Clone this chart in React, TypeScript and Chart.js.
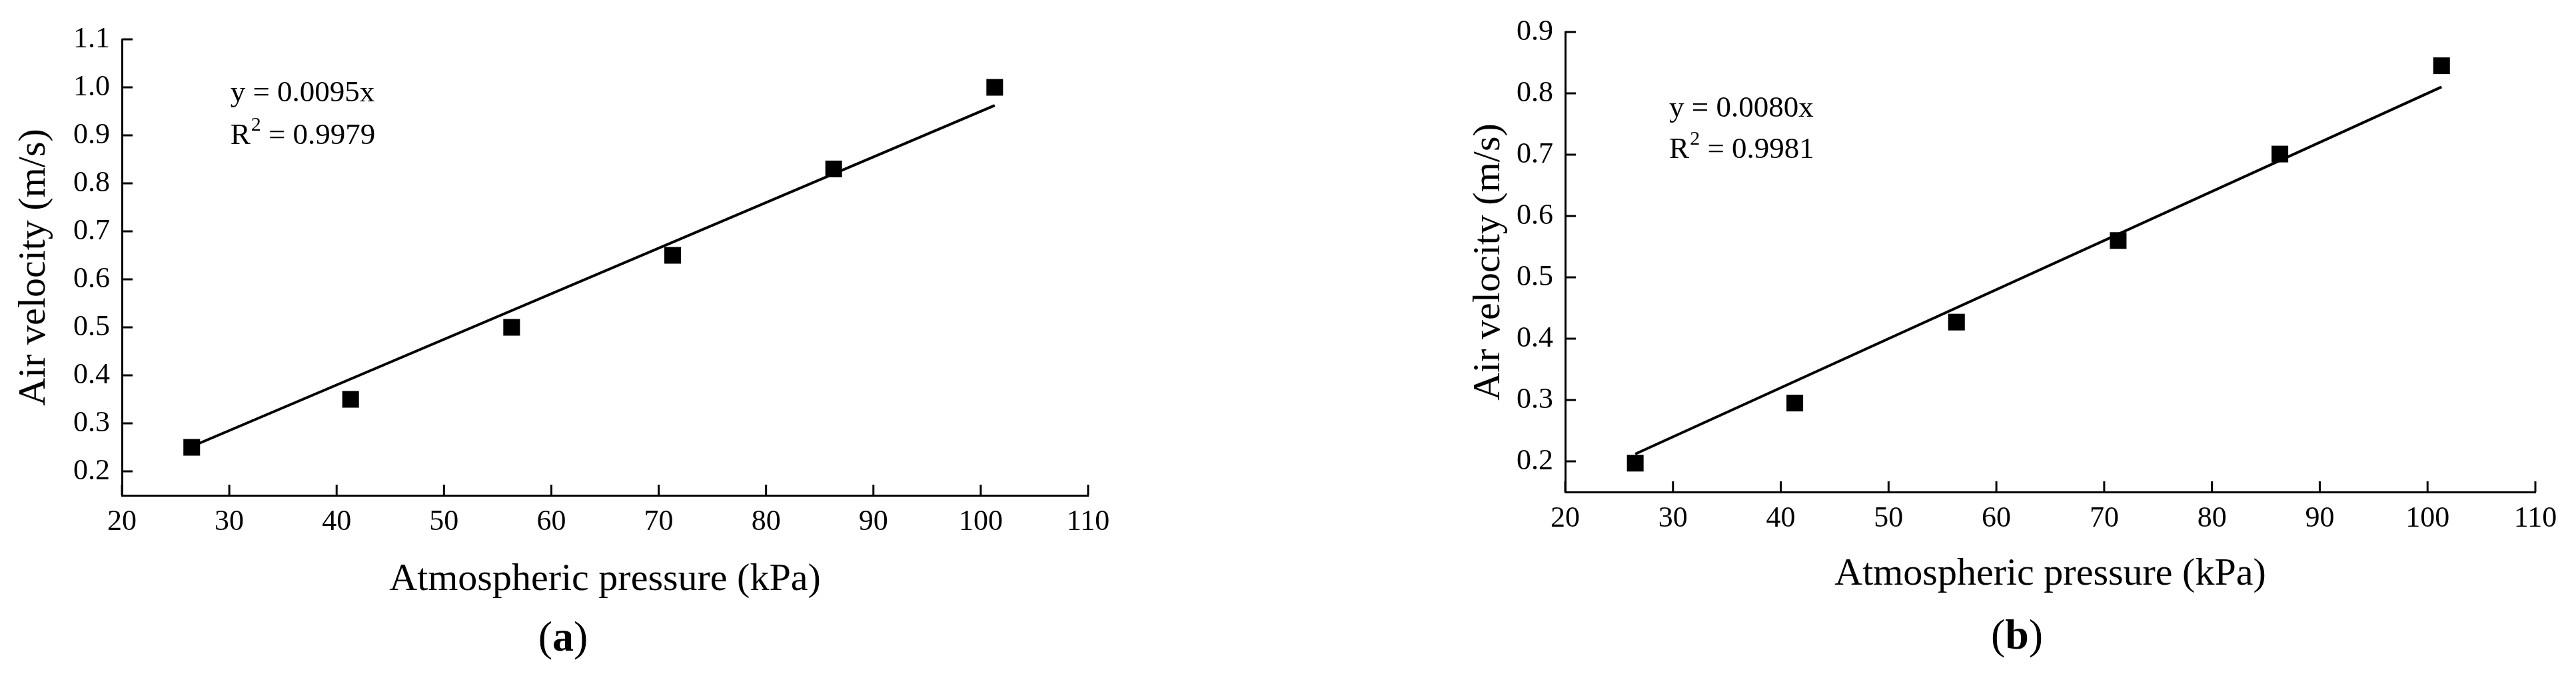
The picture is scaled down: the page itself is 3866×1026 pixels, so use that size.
import React, { useEffect, useRef } from "react";
import { Chart, registerables } from "chart.js";

Chart.register(...registerables);

// ---------- data ----------
const pressure = [26.5, 41.3, 56.3, 71.3, 86.3, 101.3];
const velocityA = [0.25, 0.35, 0.5, 0.65, 0.83, 1.0];
const velocityB = [0.197, 0.295, 0.427, 0.56, 0.701, 0.845];
const slopeA = 0.0095;
const slopeB = 0.008;
const equationA = "y = 0.0095x";
const equationB = "y = 0.0080x";
const r2A = "0.9979";
const r2B = "0.9981";
const xTicks = [20, 30, 40, 50, 60, 70, 80, 90, 100, 110];
const yTicksA = [0.2, 0.3, 0.4, 0.5, 0.6, 0.7, 0.8, 0.9, 1.0, 1.1];
const yTicksB = [0.2, 0.3, 0.4, 0.5, 0.6, 0.7, 0.8, 0.9];
const xTitle = "Atmospheric pressure (kPa)";
const yTitle = "Air velocity (m/s)";

const FONT = '"Liberation Serif", "Times New Roman", serif';

type Panel = {
  values: number[];
  slope: number;
  equation: string;
  r2: string;
  yTicks: number[];
  yMin: number;
  yMax: number;
  eqAnchor: { x: number; y1: number; y2: number };
  pad: { top: number; right: number };
  yAxisWidth: number;
  xAxisHeight: number;
  yTitlePad: number;
  xTitlePad: number;
};

const panels: Panel[] = [
  {
    values: velocityA,
    slope: slopeA,
    equation: equationA,
    r2: r2A,
    yTicks: yTicksA,
    yMin: 0.15,
    yMax: 1.1,
    eqAnchor: { x: 30.1, y1: 0.971, y2: 0.8815 },
    pad: { top: 59, right: 300 },
    yAxisWidth: 183,
    xAxisHeight: 283,
    yTitlePad: 17,
    xTitlePad: 121,
  },
  {
    values: velocityB,
    slope: slopeB,
    equation: equationB,
    r2: r2B,
    yTicks: yTicksB,
    yMin: 0.15,
    yMax: 0.9,
    eqAnchor: { x: 29.65, y1: 0.762, y2: 0.6946 },
    pad: { top: 48, right: 61 },
    yAxisWidth: 416,
    xAxisHeight: 288,
    yTitlePad: 267,
    xTitlePad: 129,
  },
];

const inwardTicks = {
  id: "inwardTicks",
  afterDatasetsDraw(chart: any) {
    const { ctx, chartArea, scales } = chart;
    const xs = scales.x;
    const ys = scales.y;
    const len = 16;
    ctx.save();
    ctx.strokeStyle = "#000";
    ctx.lineWidth = 3;
    ctx.beginPath();
    xs.ticks.forEach((t: any) => {
      const px = xs.getPixelForValue(t.value);
      ctx.moveTo(px, chartArea.bottom);
      ctx.lineTo(px, chartArea.bottom - len);
    });
    ys.ticks.forEach((t: any) => {
      const py = ys.getPixelForValue(t.value);
      ctx.moveTo(chartArea.left, py);
      ctx.lineTo(chartArea.left + len, py);
    });
    ctx.stroke();
    ctx.restore();
  },
};

function equationPlugin(p: Panel) {
  return {
    id: "equation",
    afterDatasetsDraw(chart: any) {
      const { ctx, scales } = chart;
      const px = scales.x.getPixelForValue(p.eqAnchor.x);
      const py1 = scales.y.getPixelForValue(p.eqAnchor.y1);
      const py2 = scales.y.getPixelForValue(p.eqAnchor.y2);
      ctx.save();
      ctx.fillStyle = "#000";
      ctx.textBaseline = "alphabetic";
      ctx.textAlign = "left";
      ctx.font = `45px ${FONT}`;
      ctx.fillText(p.equation, px, py1);
      ctx.fillText("R", px, py2);
      const wR = ctx.measureText("R").width;
      ctx.font = `30px ${FONT}`;
      ctx.fillText("2", px + wR + 1, py2 - 20);
      const w2 = ctx.measureText("2").width;
      ctx.font = `45px ${FONT}`;
      ctx.fillText(" = " + p.r2, px + wR + 1 + w2, py2);
      ctx.restore();
    },
  };
}

function buildConfig(p: Panel): any {
  const xMinData = Math.min(...pressure);
  const xMaxData = Math.max(...pressure);
  return {
    type: "scatter",
    data: {
      datasets: [
        {
          type: "line",
          data: [
            { x: xMinData, y: p.slope * xMinData },
            { x: xMaxData, y: p.slope * xMaxData },
          ],
          borderColor: "#000",
          borderWidth: 4,
          pointRadius: 0,
          fill: false,
          order: 2,
        },
        {
          type: "scatter",
          data: pressure.map((x, i) => ({ x, y: p.values[i] })),
          pointStyle: "rect",
          pointRadius: 17.7,
          pointBackgroundColor: "#000",
          pointBorderWidth: 0,
          backgroundColor: "#000",
          borderColor: "#000",
          clip: false,
          order: 1,
        },
      ],
    },
    options: {
      responsive: false,
      animation: false,
      devicePixelRatio: 1,
      layout: { padding: { top: p.pad.top, right: p.pad.right, left: 0, bottom: 0 } },
      plugins: { legend: { display: false }, tooltip: { enabled: false } },
      scales: {
        x: {
          type: "linear",
          min: 20,
          max: 110,
          afterBuildTicks: (s: any) => {
            s.ticks = xTicks.map((v) => ({ value: v }));
          },
          afterFit: (s: any) => {
            s.height = p.xAxisHeight;
          },
          grid: { display: true, drawOnChartArea: false, drawTicks: false, color: "#000" },
          border: { display: true, color: "#000", width: 3 },
          ticks: {
            color: "#000",
            font: { family: FONT, size: 44 },
            padding: 14,
            maxRotation: 0,
            autoSkip: false,
            callback: (v: any) => String(v),
          },
          title: {
            display: true,
            text: xTitle,
            color: "#000",
            font: { family: FONT, size: 58 },
            padding: { top: 0, bottom: p.xTitlePad },
          },
        },
        y: {
          type: "linear",
          min: p.yMin,
          max: p.yMax,
          afterBuildTicks: (s: any) => {
            s.ticks = p.yTicks.map((v) => ({ value: v }));
          },
          afterFit: (s: any) => {
            s.width = p.yAxisWidth;
          },
          grid: { display: true, drawOnChartArea: false, drawTicks: false, color: "#000" },
          border: { display: true, color: "#000", width: 3 },
          ticks: {
            color: "#000",
            font: { family: FONT, size: 44 },
            padding: 18,
            autoSkip: false,
            callback: (v: any) => Number(v).toFixed(1),
          },
          title: {
            display: true,
            text: yTitle,
            color: "#000",
            font: { family: FONT, size: 58 },
            padding: { top: p.yTitlePad, bottom: 0 },
          },
        },
      },
    },
    plugins: [inwardTicks, equationPlugin(p)],
  };
}

function Panel({ p }: { p: Panel }) {
  const ref = useRef<HTMLCanvasElement | null>(null);
  useEffect(() => {
    if (!ref.current) return;
    const chart = new Chart(ref.current, buildConfig(p));
    return () => chart.destroy();
  }, [p]);
  return <canvas ref={ref} width={1933} height={1026} style={{ display: "block", width: 1933, height: 1026 }} />;
}

const captionStyle: React.CSSProperties = {
  position: "absolute",
  fontFamily: FONT,
  fontSize: 64,
  lineHeight: "74px",
  height: 74,
  width: 200,
  textAlign: "center",
  color: "#000",
};

export default function App() {
  useEffect(() => {
    document.body.style.margin = "0";
    document.body.style.overflow = "hidden";
  }, []);
  return (
    <div style={{ position: "fixed", left: 0, top: 0, width: 3866, height: 1026, background: "#fff", overflow: "hidden" }}>
      <div style={{ position: "absolute", left: 0, top: 0 }}>
        <Panel p={panels[0]} />
      </div>
      <div style={{ position: "absolute", left: 1933, top: 0 }}>
        <Panel p={panels[1]} />
      </div>
      <div style={{ ...captionStyle, left: 845 - 100, top: 955 - 37 }}>
        (<b>a</b>)
      </div>
      <div style={{ ...captionStyle, left: 3027 - 100, top: 952 - 37 }}>
        (<b>b</b>)
      </div>
    </div>
  );
}
